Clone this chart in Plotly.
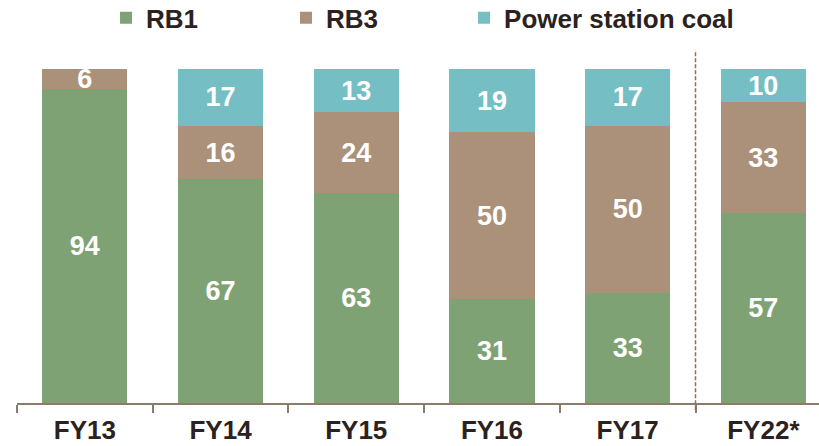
import plotly.graph_objects as go

categories = ["FY13", "FY14", "FY15", "FY16", "FY17", "FY22*"]
rb1 = [94, 67, 63, 31, 33, 57]
rb3 = [6, 16, 24, 50, 50, 33]
psc = [0, 17, 13, 19, 17, 10]

series = [
    ("RB1", rb1, "#7fa274", "legend", 0.111),
    ("RB3", rb3, "#ab9179", "legend2", 0.3354),
    ("Power station coal", psc, "#74bec4", "legend3", 0.5574),
]

fig = go.Figure()
legend_cfg = {}
for name, vals, color, lg, lx in series:
    fig.add_trace(go.Bar(
        x=categories, y=vals, name=name, legend=lg,
        marker=dict(color=color, line=dict(width=0)),
        text=[str(v) if v > 0 else "" for v in vals],
        textposition="inside", insidetextanchor="middle",
        constraintext="none", textangle=0,
        textfont=dict(family="Liberation Sans", size=27, color="white", weight="bold"),
        hoverinfo="skip",
    ))
    legend_cfg[lg] = dict(orientation="h", x=lx, xanchor="left", y=1.153, yanchor="middle",
                          font=dict(size=26, weight="bold", color="#2b2220"),
                          bgcolor="rgba(0,0,0,0)")

fig.add_shape(type="line", xref="x", yref="paper", x0=4.5, x1=4.5, y0=-0.022, y1=1.057,
              line=dict(color="#8c6f55", width=1.5, dash="4px,2px"))

fig.update_layout(
    barmode="stack", bargap=0.373,
    width=819, height=446,
    margin=dict(l=17, r=0, t=69, b=43, autoexpand=False),
    plot_bgcolor="white", paper_bgcolor="white",
    font=dict(family="Liberation Sans", color="#2b2220"),
    showlegend=True,
    **legend_cfg,
)
fig.update_xaxes(range=[-0.5, 5.41], showline=True, linecolor="#8b7b6b", linewidth=2,
                 ticks="outside", tickson="boundaries", ticklen=8, tickcolor="#8b7b6b", tickwidth=1.5,
                 ticklabelstandoff=3,
                 tickfont=dict(size=26, weight="bold", color="#2b2220", family="Liberation Sans"),
                 showgrid=False, fixedrange=True, automargin=False)
fig.update_yaxes(range=[0, 100], visible=False, showgrid=False)

fig.write_html("out.html", config={"displayModeBar": False},
               post_script="document.body.style.margin='0';")
